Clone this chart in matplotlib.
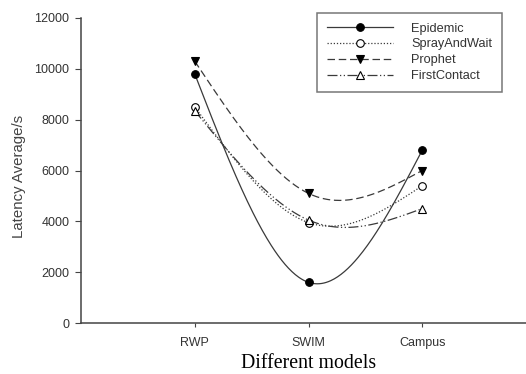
import numpy as np
import matplotlib
matplotlib.use("Agg")
import matplotlib.pyplot as plt
from matplotlib.lines import Line2D

models = ["RWP", "SWIM", "Campus"]
epidemic = [9800, 1600, 6800]
spray_and_wait = [8500, 3950, 5400]
prophet = [10300, 5100, 6000]
first_contact = [8350, 4050, 4500]
y_ticks = [0, 2000, 4000, 6000, 8000, 10000, 12000]


def natural_spline(xs, ys, n=200):
    xs = np.asarray(xs, float)
    ys = np.asarray(ys, float)
    k = len(xs)
    h = np.diff(xs)
    A = np.zeros((k, k))
    b = np.zeros(k)
    A[0, 0] = A[-1, -1] = 1.0
    for i in range(1, k - 1):
        A[i, i - 1] = h[i - 1]
        A[i, i] = 2 * (h[i - 1] + h[i])
        A[i, i + 1] = h[i]
        b[i] = 6 * ((ys[i + 1] - ys[i]) / h[i] - (ys[i] - ys[i - 1]) / h[i - 1])
    M = np.linalg.solve(A, b)
    xf = np.linspace(xs[0], xs[-1], n)
    yf = np.empty_like(xf)
    for j, x in enumerate(xf):
        i = min(np.searchsorted(xs, x, side="right") - 1, k - 2)
        t0 = xs[i + 1] - x
        t1 = x - xs[i]
        yf[j] = (M[i] * t0 ** 3 + M[i + 1] * t1 ** 3) / (6 * h[i]) \
            + (ys[i] / h[i] - M[i] * h[i] / 6) * t0 \
            + (ys[i + 1] / h[i] - M[i + 1] * h[i] / 6) * t1
    return xf, yf


W, H = 526, 374
fig = plt.figure(figsize=(W / 100, H / 100), dpi=100)
ax = fig.add_axes([81 / W, (H - 323) / H, (536 - 81) / W, (323 - 18) / H])

x = np.arange(1, len(models) + 1)
line_col = "#3a3a3a"
series = [
    ("Epidemic", epidemic, "-", "o", "black"),
    ("SprayAndWait", spray_and_wait, (0, (1, 1.5)), "o", "white"),
    ("Prophet", prophet, (0, (6, 3)), "v", "black"),
    ("FirstContact", first_contact, (0, (8, 2, 1, 2, 1, 2)), "^", "white"),
]

handles = []
for name, vals, ls, mk, fc in series:
    xf, yf = natural_spline(x, vals)
    ax.plot(xf, yf, color=line_col, lw=0.9, ls=ls)
    ax.plot(x, vals, ls="none", marker=mk, ms=5.5, mfc=fc, mec="black", mew=0.8)
    handles.append(Line2D([], [], color=line_col, lw=0.9, ls=ls, marker=mk,
                          ms=5.5, mfc=fc, mec="black", mew=0.8, markevery=[1]))

ax.set_xlim(0, 4)
ax.set_ylim(0, 12000)
ax.set_xticks(x)
ax.set_xticklabels(models)
ax.set_yticks(y_ticks)
for s in ("top", "right"):
    ax.spines[s].set_visible(False)
for s in ("left", "bottom"):
    ax.spines[s].set_color("#444444")
    ax.spines[s].set_linewidth(1.1)
ax.tick_params(direction="out", width=0.8, color="#444444",
               labelsize=9, labelcolor="#333333")
ax.tick_params(axis="y", length=4, pad=4.5)
ax.tick_params(axis="x", length=3, pad=7)
for lab in ax.get_xticklabels() + ax.get_yticklabels():
    lab.set_family("Liberation Sans")

fig.text(19 / W, 1 - 176 / H, "Latency Average/s", family="Liberation Sans",
         fontsize=10.8, rotation=90, ha="center", va="center", color="#444444")
fig.text(309 / W, 1 - 364 / H, "Different models", family="Liberation Serif",
         fontsize=14.3, ha="center", va="center", color="black")

leg = fig.legend(handles, [s[0] for s in series], loc="upper left",
                 bbox_to_anchor=(317 / W, 1 - 13 / H), frameon=True,
                 fancybox=False, edgecolor="#555555", handlelength=5.2,
                 handletextpad=1.4, borderpad=0.75, labelspacing=0.3,
                 borderaxespad=0,
                 prop={"family": "Liberation Sans", "size": 9.2})
leg.get_frame().set_linewidth(1.1)
for t in leg.get_texts():
    t.set_color("#333333")

fig.savefig("out.png", dpi=100)
